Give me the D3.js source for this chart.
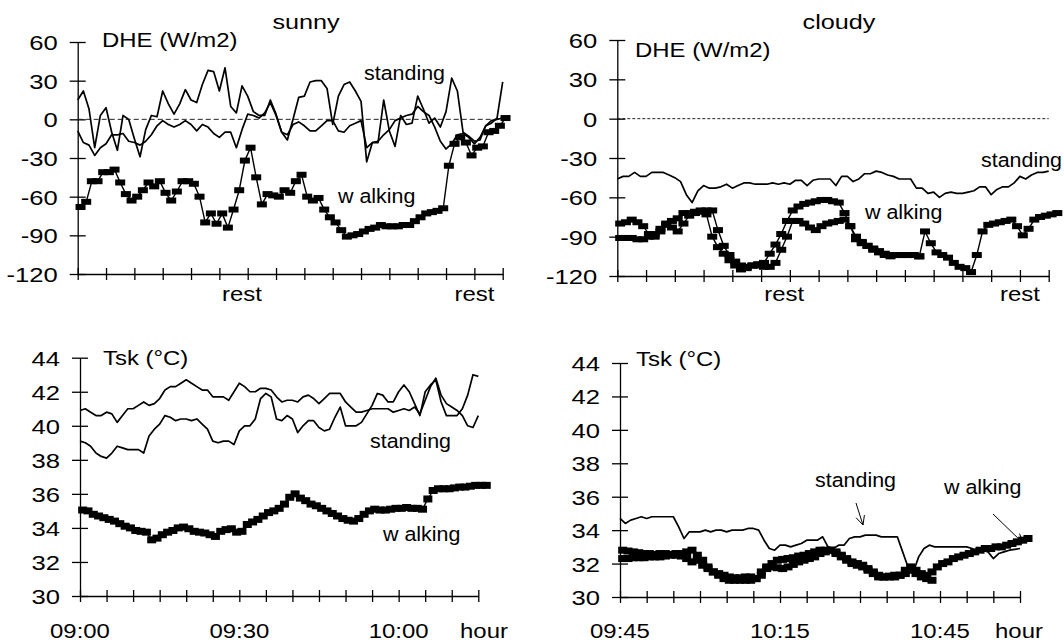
<!DOCTYPE html>
<html><head><meta charset="utf-8">
<script src="https://cdn.jsdelivr.net/npm/d3@7"></script>
<style>
html,body{margin:0;padding:0;background:#fff;}
svg{display:block;}
text{font-family:"Liberation Sans",Arial,sans-serif;fill:#000;}
</style></head><body>
<svg id="chart" width="1064" height="644"></svg>
<script>
// ---------- data (minutes from panel start) ----------
const minuteTicks = [0,5,10,15,20,25,30,35,40,45,50,55,60,65,70,75];
const labelMinutes = [0,30,60];
const sunnyTimeLabels = ["09:00","09:30","10:00"];
const cloudyTimeLabels = ["09:45","10:15","10:45"];
const restMinutes = [29,70];
const dheTicks = [60,30,0,-30,-60,-90,-120];
const tskTicks = [44,42,40,38,36,34,32,30];

// DHE sunny (standing: 2 subjects, walking)
const sunnyDheStandA = [15,22,8,-22,3,9,-10,-24,3,0,-15,-29,-8,3,2,22,12,4,12,23,15,13,27,38,37,22,40,10,5,26,18,6,3,3,15,4,-10,-16,0,17,18,29,30,30,24,-4,18,27,29,22,14,-33,-18,-18,15,-9,-21,3,-4,-3,18,8,-3,1,-6,6,32,22,-10,-13,-17,-16,-5,-3,1,29];
const sunnyDheStandB = [-9,-18,-20,-28,-22,-19,-12,-12,-11,-17,-18,-20,-17,-12,-5,-1,-4,-6,-4,-1,-4,-9,-4,-6,-11,-14,-10,-10,-22,-8,4,3,1,5,13,3,-10,-12,-4,-2,-5,-9,-9,-5,-1,-1,-9,-10,-5,-3,-1,-22,-18,-17,-12,-8,-1,1,3,4,10,6,3,-6,-17,-23,-19,-12,-11,-14,-19,-14,-5,-1,0,1];
const sunnyDheWalk = [-68,-64,-48,-48,-41,-41,-39,-49,-58,-63,-60,-55,-49,-52,-48,-57,-63,-56,-48,-48,-50,-60,-80,-73,-81,-73,-84,-70,-55,-32,-22,-45,-66,-58,-59,-60,-55,-57,-48,-43,-60,-63,-61,-70,-76,-80,-86,-91,-90,-89,-87,-85,-84,-82,-83,-83,-83,-82,-82,-79,-76,-73,-72,-71,-69,-36,-19,-14,-18,-28,-22,-21,-10,-9,-5,1];

// DHE cloudy
const cloudyDheStand = [-46,-44,-44,-41,-44,-44,-41,-41,-41,-43,-45,-48,-58,-64,-55,-51,-53,-53,-52,-50,-53,-51,-49,-49,-50,-50,-50,-49,-50,-49,-50,-47,-47,-51,-47,-46,-46,-46,-51,-44,-44,-48,-46,-42,-42,-40,-41,-43,-44,-46,-46,-46,-53,-53,-57,-56,-60,-57,-56,-57,-57,-56,-55,-52,-52,-58,-54,-52,-52,-49,-44,-46,-43,-41,-41,-40];
const cloudyDheWalkA = [-80,-79,-77,-79,-82,-88,-90,-86,-81,-78,-76,-72,-72,-71,-70,-70,-70,-85,-97,-104,-109,-112,-114,-112,-111,-110,-103,-96,-88,-78,-70,-67,-65,-64,-63,-62,-62,-63,-64,-72,-82,-92,-95,-97,-100,-102,-104,-104,-104,-104,-104,-104,-105];
const cloudyDheWalkB = [-91,-91,-91,-92,-92,-90,-88,-84,-80,-83,-86,-80,-74,-72,-71,-73,-90,-98,-103,-108,-112,-115,-113,-112,-112,-113,-113,-110,-100,-90,-78,-78,-80,-83,-85,-82,-80,-79,-78,-77,-82,-90,-94,-97,-99,-101,-103,-105,-104,-104,-104,-104,-105,-86,-95,-102,-104,-106,-110,-113,-114,-117,-104,-86,-81,-80,-79,-78,-77,-82,-89,-84,-77,-75,-74,-73,-72];

// Tsk sunny
const sunnyTskStandA = [40.9,41.0,40.8,40.6,40.6,40.8,40.7,40.2,40.6,41.0,41.0,41.2,41.4,41.2,41.3,41.6,42.1,42.3,42.3,42.5,42.7,42.5,42.3,42.1,42.1,41.7,41.7,41.7,41.5,42.0,42.5,42.3,42.0,42.0,42.2,42.2,42.1,41.7,41.4,41.5,41.5,41.4,41.7,41.8,41.6,41.3,41.6,41.9,41.9,41.9,41.4,41.1,40.8,40.8,40.9,41.0,41.0,41.0,41.0,40.8,40.9,41.0,40.9,41.1,40.7,41.5,42.3,42.8,41.8,41.3,41.1,40.9,40.6,40.0,39.9,40.6];
const sunnyTskStandB = [39.1,39.0,38.8,38.4,38.2,38.1,38.4,38.8,38.7,38.6,38.6,38.6,38.4,39.4,39.8,40.1,40.6,40.5,40.3,40.4,40.4,40.3,40.4,40.1,39.8,39.1,39.0,39.1,39.1,38.9,39.7,40.0,40.0,40.4,41.6,41.9,41.7,40.4,40.3,40.6,40.4,39.6,40.0,40.3,40.3,39.9,39.7,39.8,40.5,41.1,40.0,40.0,40.0,40.2,40.7,41.2,41.9,41.8,41.4,41.4,42.0,42.4,42.0,41.3,40.6,42.0,42.4,42.7,41.4,40.6,40.6,40.6,41.0,41.8,43.0,42.9];
const sunnyTskWalk = [35.05,35.0,34.8,34.7,34.6,34.5,34.4,34.25,34.1,34.0,33.85,33.8,33.75,33.3,33.4,33.6,33.75,33.85,34.0,34.05,33.95,33.8,33.75,33.7,33.6,33.5,33.8,33.9,33.95,33.75,33.8,34.2,34.35,34.5,34.7,34.9,35.0,35.15,35.4,35.8,36.0,35.75,35.6,35.4,35.3,35.15,35.0,34.85,34.7,34.55,34.45,34.4,34.55,34.8,35.0,35.1,35.05,35.05,35.1,35.15,35.15,35.2,35.15,35.15,35.1,35.7,36.2,36.3,36.3,36.3,36.35,36.4,36.4,36.45,36.5,36.5,36.5];

// Tsk cloudy
const cloudyTskStand = [34.7,34.4,34.6,34.7,34.8,34.7,34.8,34.8,34.8,34.8,34.8,34.2,33.5,33.9,33.9,33.9,34.0,33.9,34.0,34.0,33.9,34.0,34.0,34.0,34.1,34.1,34.0,33.4,32.9,32.8,33.1,33.1,33.0,33.1,33.2,33.4,33.4,33.4,33.6,33.0,32.9,33.1,33.1,33.5,33.6,33.6,33.7,33.7,33.7,33.6,33.6,33.6,33.6,32.7,31.8,31.5,32.4,32.9,33.1,33.0,33.0,33.0,33.0,33.0,33.0,33.0,32.9,32.7,32.8,32.7,32.3,32.6,32.7,32.8,32.85,32.9];
const cloudyTskWalkA = [32.8,32.75,32.7,32.65,32.6,32.6,32.55,32.6,32.6,32.55,32.6,32.6,32.7,32.8,32.5,32.2,31.8,31.5,31.4,31.3,31.2,31.15,31.15,31.2,31.2,31.1,31.3,31.8,32.0,32.2,32.25,32.3,32.35,32.45,32.5,32.6,32.7,32.8,32.8,32.8,32.6,32.4,32.2,32.0,31.9,31.8,31.6,31.4,31.2,31.2,31.25,31.3,31.3,31.4,31.6,31.4,31.2,31.1,31.0];
const cloudyTskWalkB = [32.3,32.3,32.35,32.35,32.35,32.4,32.4,32.4,32.45,32.5,32.5,32.45,32.3,32.1,32.2,31.9,31.7,31.5,31.3,31.1,31.0,31.0,31.0,31.0,31.0,31.1,31.5,31.7,31.8,31.75,31.7,31.8,31.95,32.1,32.2,32.3,32.4,32.6,32.7,32.8,32.7,32.5,32.3,32.1,32.0,31.9,31.7,31.5,31.3,31.2,31.2,31.2,31.3,31.6,31.8,31.6,31.4,31.3,31.5,31.8,32.0,32.1,32.3,32.4,32.5,32.6,32.7,32.8,32.9,32.9,33.0,33.0,33.1,33.2,33.3,33.4,33.5];

// ---------- drawing ----------
const svg = d3.select("#chart");
const series = (vals, off) => vals.map((v, i) => ({t: i + off, v}));

function label(str, x, y, anchor, size, sx) {
  svg.append("text")
    .attr("transform", `translate(${x},${y}) scale(${sx},1)`)
    .attr("text-anchor", anchor)
    .attr("font-size", size)
    .text(str);
}

function panel(cfg) {
  const x = d3.scaleLinear().domain([0, 75]).range([cfg.x0, cfg.x1]);
  const y = d3.scaleLinear().domain(cfg.yDomain).range([cfg.yBot, cfg.yTop]);
  const g = svg.append("g");

  const ya = g.append("g").attr("transform", `translate(${cfg.x0},0)`)
    .call(d3.axisLeft(y).tickValues(cfg.yTicks).tickSizeOuter(0).tickSizeInner(8).tickFormat(d => String(d)));
  ya.selectAll(".tick line").attr("x1", -8).attr("x2", 8);
  ya.selectAll(".tick text").attr("x", 0).attr("dy", "0.36em")
    .attr("font-size", 21).attr("font-family", '"Liberation Sans",Arial,sans-serif')
    .attr("transform", "translate(-20,0) scale(1.22,1)");

  const xa = g.append("g").attr("transform", `translate(0,${cfg.yBot})`)
    .call(d3.axisBottom(x).tickValues(minuteTicks).tickSizeOuter(0).tickSizeInner(6).tickFormat(""));
  xa.selectAll(".tick line").attr("y1", -6).attr("y2", 6);
  g.selectAll(".domain, .tick line").attr("stroke", "#000").attr("stroke-width", 1.3);

  if (cfg.zero) {
    g.append("line").attr("x1", x(0)).attr("x2", x(75)).attr("y1", y(0)).attr("y2", y(0))
      .attr("stroke", "#222").attr("stroke-width", 1).attr("stroke-dasharray", cfg.zero);
  }

  const line = d3.line().x(d => x(d.t)).y(d => y(d.v));
  cfg.stand.forEach(s => {
    g.append("path").datum(series(s, 0)).attr("d", line)
      .attr("fill", "none").attr("stroke", "#000").attr("stroke-width", 1.7).attr("stroke-linejoin", "round");
  });
  cfg.walk.forEach(s => {
    const d = series(s, 0.5);
    g.append("path").datum(d).attr("d", line)
      .attr("fill", "none").attr("stroke", "#000").attr("stroke-width", 1.4);
    g.selectAll(null).data(d).enter().append("rect")
      .attr("x", p => x(p.t) - cfg.mw / 2).attr("y", p => y(p.v) - cfg.mh / 2)
      .attr("width", cfg.mw).attr("height", cfg.mh).attr("fill", "#000");
  });

  if (cfg.timeLabels) {
    cfg.timeLabels.forEach((s, i) => label(s, x(labelMinutes[i]), 638, "middle", 21, 1.14));
    label("hour", cfg.hourX, 638, "middle", 21, 1.14);
  }
  if (cfg.rest) {
    restMinutes.forEach(m => label("rest", x(m), 301, "middle", 21, 1.14));
  }
  return {x, y};
}

function arrow(x1, y1, x2, y2) {
  const a = Math.atan2(y2 - y1, x2 - x1), L = 10, sp = 0.45;
  const p = `M${x1},${y1}L${x2},${y2}M${x2 - L*Math.cos(a - sp)},${y2 - L*Math.sin(a - sp)}L${x2},${y2}L${x2 - L*Math.cos(a + sp)},${y2 - L*Math.sin(a + sp)}`;
  svg.append("path").attr("d", p).attr("fill", "none").attr("stroke", "#000").attr("stroke-width", 1);
}

// top-left: sunny DHE
panel({x0: 77.7, x1: 502.7, yTop: 42, yBot: 274, yDomain: [-120, 60], yTicks: dheTicks, zero: "5,3",
  stand: [sunnyDheStandA, sunnyDheStandB], walk: [sunnyDheWalk], mw: 10, mh: 6, rest: true});
// top-right: cloudy DHE
panel({x0: 617.3, x1: 1048.7, yTop: 40, yBot: 276, yDomain: [-120, 60], yTicks: dheTicks, zero: "3,2",
  stand: [cloudyDheStand], walk: [cloudyDheWalkA, cloudyDheWalkB], mw: 10, mh: 6, rest: true});
// bottom-left: sunny Tsk
panel({x0: 80, x1: 478.3, yTop: 357.7, yBot: 596, yDomain: [30, 44], yTicks: tskTicks,
  stand: [sunnyTskStandA, sunnyTskStandB], walk: [sunnyTskWalk], mw: 9, mh: 7,
  timeLabels: sunnyTimeLabels, hourX: 484});
// bottom-right: cloudy Tsk
panel({x0: 620, x1: 1020, yTop: 363, yBot: 597, yDomain: [30, 44], yTicks: tskTicks,
  stand: [cloudyTskStand], walk: [cloudyTskWalkA, cloudyTskWalkB], mw: 9, mh: 7,
  timeLabels: cloudyTimeLabels, hourX: 1019});

// titles and labels
label("sunny", 306, 29, "middle", 21, 1.2);
label("cloudy", 839, 29, "middle", 21, 1.2);
label("DHE (W/m2)", 102, 47, "start", 21, 1.14);
label("DHE (W/m2)", 635, 57, "start", 21, 1.14);
label("standing", 364, 80, "start", 19.5, 1.1);
label("w alking", 338, 203, "start", 19.5, 1.1);
label("standing", 981, 167, "start", 19.5, 1.1);
label("w alking", 865, 219, "start", 19.5, 1.1);
label("Tsk (°C)", 103, 365, "start", 21, 1.14);
label("Tsk (°C)", 636, 366, "start", 21, 1.14);
label("standing", 370, 448, "start", 19.5, 1.1);
label("w alking", 383, 541, "start", 19.5, 1.1);
label("standing", 815, 487, "start", 19.5, 1.1);
label("w alking", 944, 494, "start", 19.5, 1.1);
arrow(856, 503, 863, 525);
arrow(993, 514, 1023, 543);
</script>
</body></html>
